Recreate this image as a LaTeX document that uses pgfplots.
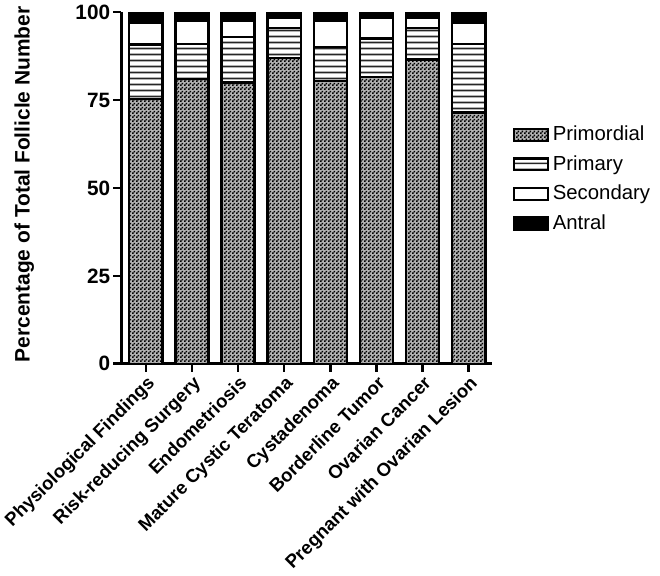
\documentclass[border=0pt]{standalone}
\usepackage{fontspec}
\setmainfont{Liberation Sans}
\usepackage{pgfplots}
\pgfplotsset{compat=1.18}
\usetikzlibrary{patterns}

% fine checkerboard for primordial, horizontal stripes for primary
\pgfdeclarepatternformonly{checker}{\pgfpointorigin}{\pgfpoint{1.8pt}{1.8pt}}{\pgfpoint{1.8pt}{1.8pt}}{%
  \pgfpathrectangle{\pgfpointorigin}{\pgfpoint{0.9pt}{0.9pt}}%
  \pgfpathrectangle{\pgfpoint{0.9pt}{0.9pt}}{\pgfpoint{0.9pt}{0.9pt}}%
  \pgfusepath{fill}}
\pgfdeclarepatternformonly{hlines}{\pgfpointorigin}{\pgfpoint{1pt}{2.8pt}}{\pgfpoint{1pt}{2.8pt}}{%
  \pgfsetlinewidth{0.9pt}%
  \pgfpathmoveto{\pgfpoint{-0.1pt}{1.4pt}}%
  \pgfpathlineto{\pgfpoint{1.1pt}{1.4pt}}%
  \pgfusepath{stroke}}

\begin{document}
\begin{tikzpicture}
\begin{axis}[
    width=187.5pt, height=178pt, scale only axis,
    ybar stacked, bar width=0.72,
    xmin=-0.53, xmax=7.5, ymin=0, ymax=100,
    axis x line*=bottom, axis y line*=left,
    axis line style={line width=1.4pt},
    tick style={line width=1.3pt, black},
    tick align=outside, major tick length=4pt,
    /pgf/number format/assume math mode=true,
    xtick={0,...,7},
    xticklabels={Physiological Findings, Risk-reducing Surgery, Endometriosis,
      Mature Cystic Teratoma, Cystadenoma, Borderline Tumor, Ovarian Cancer,
      Pregnant with Ovarian Lesion},
    xticklabel style={rotate=45, anchor=north east, inner sep=1pt,
      font=\bfseries\fontsize{9.4}{11}\selectfont},
    ytick={0,25,50,75,100},
    yticklabel style={font=\bfseries\fontsize{10.5}{12}\selectfont, inner sep=1.5pt},
    ylabel={Percentage of Total Follicle Number},
    ylabel style={at={(axis description cs:-0.262,0.51)}, anchor=center,
      font=\bfseries\fontsize{10.6}{12}\selectfont},
    legend style={at={(1.04,0.70)}, anchor=north west, draw=none,
      font=\fontsize{10.3}{12}\selectfont, row sep=2pt,
      /tikz/every even column/.append style={column sep=0pt}},
    legend cell align=left,
    legend image code/.code={\draw[#1] (0pt,-3pt) rectangle (17pt,3pt);},
]
\addplot[draw=black, line width=1.2pt, pattern=checker,
  preaction={fill=black!30}] coordinates {
  (0,75.3) (1,81.0) (2,80.0) (3,87.0) (4,80.5) (5,81.5) (6,86.5) (7,71.5)};
\addplot[draw=black, line width=1.2pt, pattern=hlines, pattern color=black!85] coordinates {
  (0,15.5) (1,10.0) (2,13.0) (3,8.5) (4,9.5) (5,11.0) (6,9.0) (7,19.5)};
\addplot[draw=black, line width=1.2pt, fill=white] coordinates {
  (0,6.2) (1,6.5) (2,4.5) (3,3.0) (4,7.5) (5,6.0) (6,3.0) (7,6.0)};
\addplot[draw=black, line width=1.2pt, fill=black] coordinates {
  (0,3.0) (1,2.5) (2,2.5) (3,1.5) (4,2.5) (5,1.5) (6,1.5) (7,3.0)};
\legend{Primordial, Primary, Secondary, Antral}
\end{axis}
\end{tikzpicture}
\end{document}
